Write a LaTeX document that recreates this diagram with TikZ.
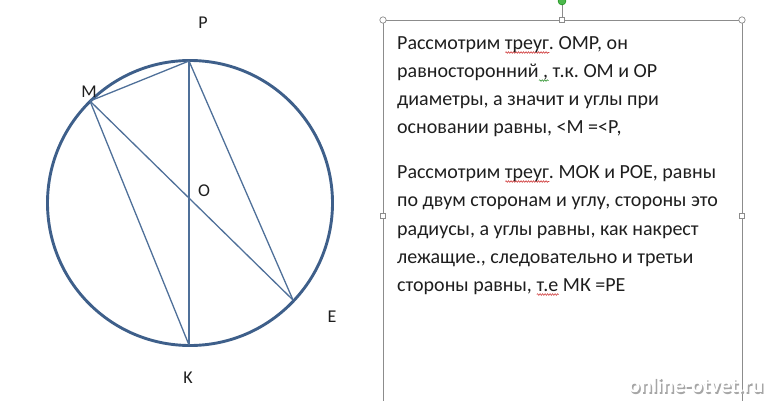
\documentclass[tikz,border=0pt]{standalone}
\usepackage{fontspec}
\setmainfont{Carlito}
\frenchspacing
\usetikzlibrary{decorations.pathmorphing}
\definecolor{circ}{HTML}{3E5F8A}
\definecolor{chord}{HTML}{4F7099}
\definecolor{boxc}{HTML}{8C8C8C}
\definecolor{txt}{HTML}{1E1E1E}
\definecolor{spellred}{HTML}{D04040}
\definecolor{spellgreen}{HTML}{3C9A3C}
\newsavebox{\sqbox}
\newcommand{\waveunder}[2]{\sbox{\sqbox}{#2}\leavevmode\rlap{\tikz[baseline=0pt, x=1pt, y=1pt]\draw[#1, line width=0.6pt, decorate, decoration={snake, amplitude=0.8pt, segment length=2.5pt}] (0,-3.5) -- (\wd\sqbox,-3.5);}\usebox{\sqbox}}
\tikzset{
  circ/.style={draw=circ, line width=2.9pt},
  chordl/.style={draw=chord, line width=1.3pt},
  lbl/.style={font=\fontsize{18}{18}\selectfont, text=txt, inner sep=0pt},
  tline/.style={font=\fontsize{20}{20}\selectfont\frenchspacing, text=txt, inner sep=0pt, anchor=base west},
  hcirc/.style={draw=boxc, fill=white, line width=0.7pt},
  hsq/.style={draw=boxc, fill=white, line width=0.7pt, minimum size=5pt, inner sep=0pt},
}
\begin{document}
\begin{tikzpicture}[x=1pt,y=-1pt]
\useasboundingbox (0,0) rectangle (772,400);
% circle
\coordinate (O) at (190,203);
\draw[circ] (O) circle (142.5);
\coordinate (P) at (189,61);
\coordinate (K) at (189,345);
\coordinate (M) at (90,101);
\coordinate (E) at (293,300);
\draw[chordl] (M) -- (P);
\draw[chordl] (P) -- (K);
\draw[chordl] (P) -- (E);
\draw[chordl] (M) -- (E);
\draw[chordl] (M) -- (K);
% labels
\node[lbl] (lP) at (203,23) {P};
\node[lbl] (lM) at (89,92) {M};
\node[lbl] (lO) at (204,191) {O};
\node[lbl] (lE) at (332,317) {E};
\node[lbl] (lK) at (188,378) {K};
% text box
\coordinate (b1) at (383,20);
\coordinate (b2) at (742,20);
\coordinate (b3) at (742,401);
\coordinate (b4) at (383,401);
\draw[boxc, line width=0.8pt] (b4) -- (b1) -- (b2) -- (b3);
\coordinate (rot) at (562,1);
\node[hsq] (hTop) at (562,20) {};
\draw[boxc, line width=0.8pt] (rot) -- (hTop);
\fill[green!60!black!70!white, draw=green!50!black] (rot) circle (4);
\draw[hcirc] (b1) circle (3.2);
\draw[hcirc] (b2) circle (3.2);
\node[hsq] (hL) at (383,216) {};
\node[hsq] (hR) at (742,216) {};
% text
\node[tline] (t1) at (397,49) {Рассмотрим \waveunder{spellred}{треуг}. ОМР, он};
\node[tline] (t2) at (397,77) {равносторонний\waveunder{spellgreen}{ ,} т.к. ОМ и ОР};
\node[tline] (t3) at (397,105) {диаметры, а значит и углы при};
\node[tline] (t4) at (397,133) {основании равны, <М =<Р,};
\node[tline] (t5) at (397,178) {Рассмотрим \waveunder{spellred}{треуг}. МОК и РОЕ, равны};
\node[tline] (t6) at (397,206) {по двум сторонам и углу, стороны это};
\node[tline] (t7) at (397,235) {радиусы, а углы равны, как накрест};
\node[tline] (t8) at (397,263) {лежащие., следовательно и третьи};
\node[tline] (t9) at (397,291) {стороны равны, \waveunder{spellred}{т.е} МК =РЕ};
% watermark
\node[font=\fontsize{21.5}{21.5}\selectfont\bfseries, text=black!35, inner sep=0pt, anchor=base] (wm0) at (697.5,394) {online-otvet.ru};
\node[font=\fontsize{21.5}{21.5}\selectfont\bfseries, text=white, inner sep=0pt, anchor=base] (wm) at (696,392.5) {online-otvet.ru};
\end{tikzpicture}
\end{document}
